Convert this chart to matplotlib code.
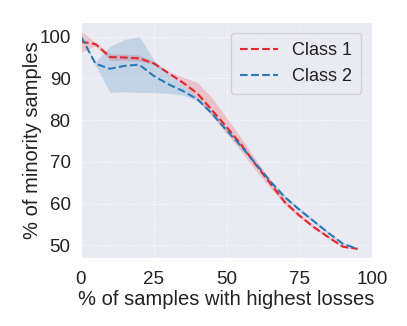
import matplotlib
matplotlib.use("Agg")
import matplotlib.pyplot as plt
import seaborn as sns

x = [0, 5, 10, 15, 20, 25, 30, 35, 40, 45, 50, 55, 60, 65, 70, 75, 80, 85, 90, 95]
class1 = [98.8, 98.2, 95.1, 95.0, 94.8, 93.6, 91.3, 89.0, 86.4, 82.4, 78.4, 74.2, 69.4, 64.9, 60.4, 57.2, 54.4, 52.0, 49.7, 49.2]
class1_lo = [96.2, 97.8, 94.3, 94.3, 94.1, 93.3, 91.0, 88.5, 85.0, 81.0, 76.8, 72.6, 68.0, 63.8, 59.8, 56.7, 54.0, 51.7, 49.5, 49.1]
class1_hi = [101.3, 98.6, 95.9, 95.8, 95.6, 94.0, 91.6, 90.3, 89.0, 85.4, 80.6, 75.8, 70.6, 65.8, 61.0, 57.7, 54.8, 52.3, 49.9, 49.3]
class2 = [100.0, 93.5, 92.3, 93.0, 93.3, 90.6, 88.6, 87.0, 85.0, 81.6, 77.6, 73.8, 69.6, 65.4, 61.6, 58.6, 55.8, 53.0, 50.4, 49.2]
class2_lo = [100.0, 93.0, 86.6, 86.8, 86.6, 86.6, 86.4, 86.0, 84.6, 81.2, 77.2, 73.4, 69.2, 65.0, 61.2, 58.2, 55.4, 52.7, 50.2, 49.1]
class2_hi = [100.0, 94.0, 97.7, 99.3, 100.0, 94.5, 91.0, 88.5, 85.4, 82.0, 78.0, 74.2, 70.0, 65.8, 62.0, 59.0, 56.2, 53.3, 50.6, 49.3]

sns.set_style("darkgrid", {"grid.linestyle": ":"})
plt.rcParams['font.family'] = ['Liberation Sans', 'DejaVu Sans']

fig = plt.figure(figsize=(4.07, 3.26), dpi=100)
ax = fig.add_axes([81/407, 1-258/326, (372-81)/407, (258-22)/326])

red = '#e5262b'
blue = '#2a7ab9'
ax.fill_between(x, class1_lo, class1_hi, color=red, alpha=0.2, linewidth=0)
ax.fill_between(x, class2_lo, class2_hi, color=blue, alpha=0.2, linewidth=0)
ax.plot(x, class1, '--', color=red, lw=1.5, label='Class 1')
ax.plot(x, class2, '--', color=blue, lw=1.5, label='Class 2')

ax.set_xlim(0, 100)
ax.set_ylim(47, 103.5)
ax.set_xticks([0, 25, 50, 75, 100])
ax.set_yticks([50, 60, 70, 80, 90, 100])
ax.tick_params(axis='x', labelsize=13.5, pad=6, colors='#222222')
ax.tick_params(axis='y', labelsize=13.5, pad=4, colors='#222222')
ax.set_xlabel('% of samples with highest losses', fontsize=14.5, labelpad=1, color='#222222')
ax.set_ylabel('% of minority samples', fontsize=14.5, labelpad=-2, color='#222222')
leg = ax.legend(loc='upper right', fontsize=13, handlelength=2.1, labelspacing=0.5,
                borderpad=0.5, borderaxespad=0.6)
for t in leg.get_texts():
    t.set_color('#222222')

fig.savefig('out.png', dpi=100)
